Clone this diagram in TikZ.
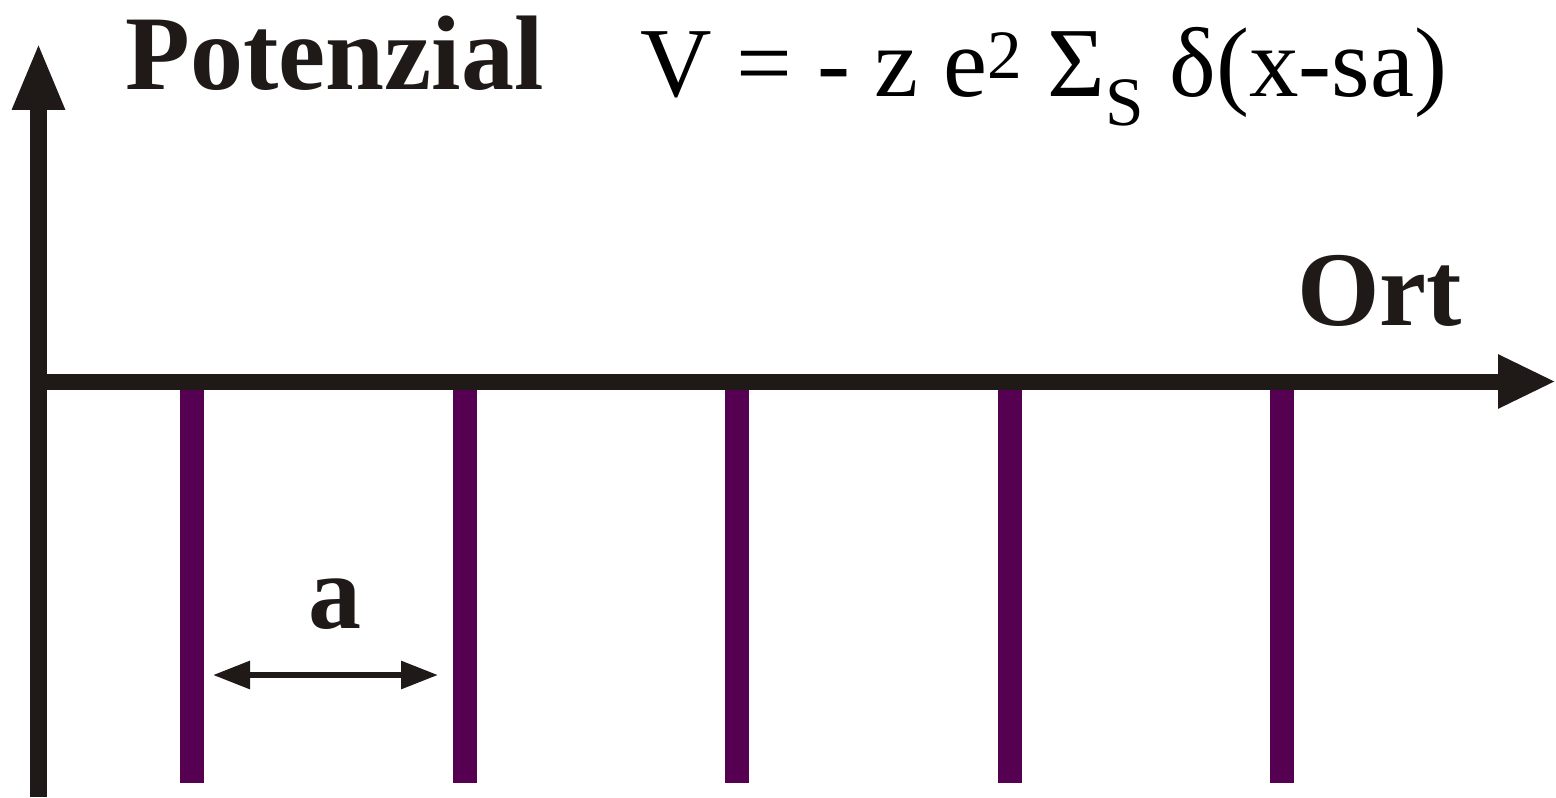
\documentclass[tikz,border=0pt]{standalone}
\usepackage{fontspec}
\setmainfont{Liberation Serif}
\usetikzlibrary{arrows.meta}
\definecolor{axisblack}{RGB}{31,26,23}
\definecolor{barpurple}{RGB}{85,0,80}
\begin{document}
\begin{tikzpicture}[x=0.5pt,y=-0.5pt,
  axislabel/.style={anchor=base west,inner sep=0pt,text=axisblack,font=\fontsize{53}{53}\selectfont\bfseries},
  formula/.style={anchor=base west,inner sep=0pt,text=black,font=\fontsize{49.5}{49.5}\selectfont},
  axis/.style={draw=axisblack,line width=8.5pt},
  bar/.style={draw=barpurple,line width=12pt}]
\useasboundingbox (0,0) rectangle (1556,797);
\coordinate (origin) at (38.5,381.5);
\coordinate (y_bottom) at (38.5,797);
\coordinate (y_top) at (38.5,42);
\coordinate (x_end) at (1556,381.5);
\node[axislabel, name=potenzial] at (125,90) {Potenzial};
\node[formula, name=pot_formula] at (640,97) {V = - z e\textsuperscript{2} Σ\textsubscript{S} δ(x-sa)};
\node[axislabel, name=ort] at (1297,325) {Ort};
\node[axislabel, name=spacing] at (308,628) {a};
\foreach \i in {0,...,4}{
  \coordinate (bar_\i_top) at (192+272.5*\i,390);
  \coordinate (bar_\i_bottom) at (192+272.5*\i,783);
  \draw[bar] (bar_\i_top) -- (bar_\i_bottom);
}
\coordinate (a_left) at (213,675);
\coordinate (a_right) at (438,675);
\draw[axis, -{Triangle[length=34pt,width=24pt]}] (y_bottom) -- (y_top);
\draw[axis, line width=8pt, -{Triangle[length=29pt,width=25pt]}] (origin) -- (x_end);
\draw[draw=axisblack, line width=3pt, {Triangle[length=18.5pt,width=13.5pt]}-{Triangle[length=18.5pt,width=13.5pt]}] (a_left) -- (a_right);
\end{tikzpicture}
\end{document}
